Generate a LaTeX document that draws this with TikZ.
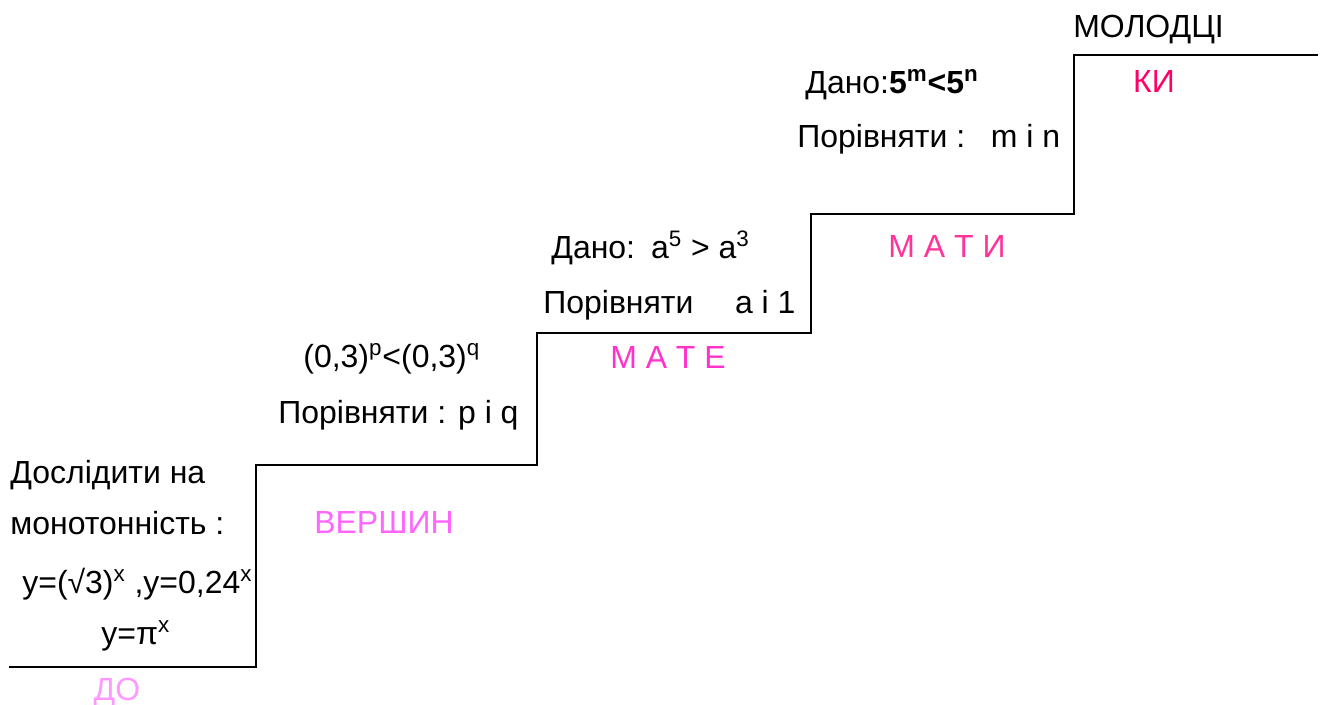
\documentclass[tikz,border=0pt]{standalone}
\usepackage{fontspec}
\setmainfont{Liberation Sans}
\usepackage{tikz}
\usetikzlibrary{positioning}
\definecolor{PinkA}{HTML}{FF99FF}
\definecolor{PinkB}{HTML}{FF66FF}
\definecolor{PinkC}{HTML}{FF33CC}
\definecolor{PinkD}{HTML}{FF3399}
\definecolor{PinkE}{HTML}{FF0066}

\begin{document}
\begin{tikzpicture}[
    x=0.02cm,
    y=-0.02cm,
    font=\fontsize{18.2pt}{22pt}\selectfont,
    task/.style={
        anchor=base west,
        inner sep=0pt
    },
    syllable/.style={
        anchor=base,
        inner sep=0pt
    }
]

% =====================================================
% CANVAS
% =====================================================
\useasboundingbox (0,0) rectangle (1323,704);

% =====================================================
% STAIRCASE
% =====================================================
\draw[
    black,
    line width=1.1pt
]
(9,667) -- (256,667) -- (256,465)
-- (537,465) -- (537,333)
-- (811,333) -- (811,214)
-- (1074,214) -- (1074,55)
-- (1318,55);

% =====================================================
% STEP 1 : MONOTONICITY
% =====================================================
\node[task] (mono1) at (10,483) {Дослідити на};
\node[task] (mono2) at (10,534) {монотонність :};
\node[task] (mono3) at (22,593)
{y=(√3)\textsuperscript{x} ,y=0,24\textsuperscript{x}};
\node[task] (mono4) at (101,644) {y=π\textsuperscript{x}};

\node[syllable, text=PinkA] (do) at (117,700) {ДО};

% =====================================================
% STEP 2 : COMPARE p AND q
% =====================================================
\node[task] (pq1) at (303,367)
{(0,3)\textsuperscript{p}<(0,3)\textsuperscript{q}};
\node[task] (pq2) at (278,423) {Порівняти : p і q};

\node[syllable, text=PinkB] (vershyn) at (384,533) {ВЕРШИН};

% =====================================================
% STEP 3 : COMPARE a AND 1
% =====================================================
\node[task] (a1) at (551,258)
{Дано:\hspace{0.5em}a\textsuperscript{5} > a\textsuperscript{3}};
\node[task] (a2) at (543,313) {Порівняти\hspace{1.3em}a і 1};

\node[syllable, text=PinkC] (mate) at (668,368) {М А Т Е};

% =====================================================
% STEP 4 : COMPARE m AND n
% =====================================================
\node[task] (mn1) at (805,93)
{Дано:\textbf{5\textsuperscript{m}<5\textsuperscript{n}}};
\node[task] (mn2) at (797,147) {Порівняти :\hspace{0.8em}m і n};

\node[syllable, text=PinkD] (maty) at (947,257) {М А Т И};

% =====================================================
% TOP STEP
% =====================================================
\node[task] (molodci) at (1073,37) {МОЛОДЦІ};

\node[syllable, text=PinkE] (ky) at (1154,92) {КИ};

\end{tikzpicture}
\end{document}
